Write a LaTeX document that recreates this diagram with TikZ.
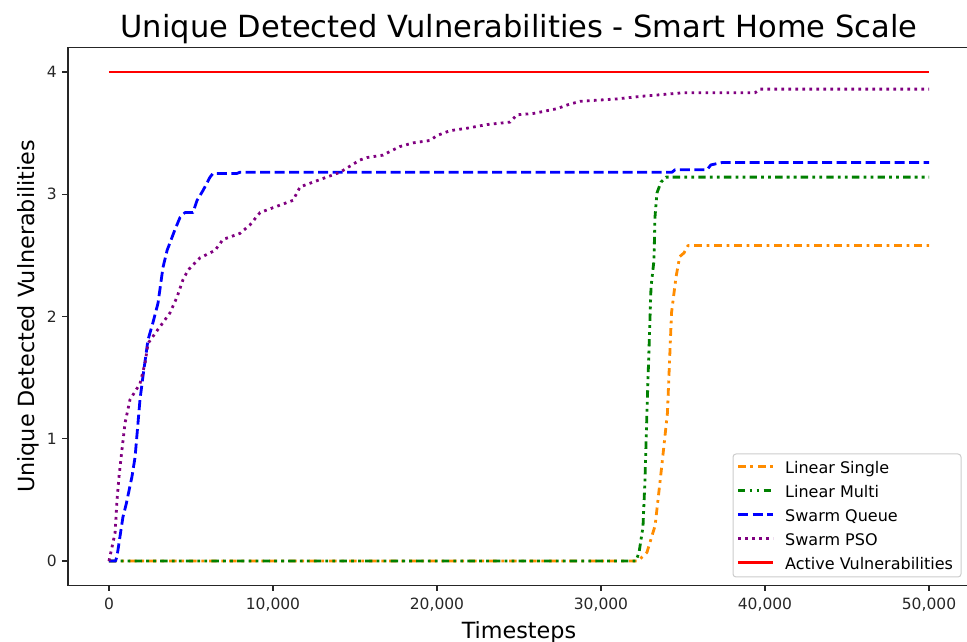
\documentclass[tikz,border=0pt]{standalone}
\usepackage{fontspec}
\setmainfont{DejaVu Sans}
\definecolor{cSingle}{HTML}{FF8C00}
\definecolor{cMulti}{HTML}{008000}
\definecolor{cQueue}{HTML}{0000FF}
\definecolor{cPSO}{HTML}{800080}
\definecolor{cActive}{HTML}{FF0000}
\definecolor{cSpine}{HTML}{262626}
\definecolor{cFrame}{HTML}{CCCCCC}
\begin{document}
\begin{tikzpicture}[x=16.4pt,y=122.25pt,
  spine/.style={line width=1.4pt,draw=cSpine},
  tickmark/.style={line width=1.4pt,draw=cSpine},
  ticklabel/.style={font=\fontsize{15.5}{18}\selectfont,inner sep=0pt,text=cSpine},
  axislabel/.style={font=\fontsize{22.3}{26}\selectfont,inner sep=0pt},
  legendtext/.style={font=\fontsize{16}{19}\selectfont,inner sep=0pt,anchor=base west},
  curve/.style={line width=2.8pt,line join=round},
  linsingle/.style={curve,draw=cSingle,dash pattern=on 7.6pt off 4.8pt on 2.8pt off 4.8pt},
  linmulti/.style={curve,draw=cMulti,dash pattern=on 7.4pt off 4.2pt on 2.8pt off 4.2pt on 2.8pt off 4.2pt},
  swqueue/.style={curve,draw=cQueue,dash pattern=on 10pt off 4.5pt},
  swpso/.style={curve,draw=cPSO,dash pattern=on 2.7pt off 4.3pt},
  active/.style={curve,draw=cActive}]

\useasboundingbox (-109pt,-81pt) rectangle (858pt,561pt);

% title and axis labels
\node[font=\fontsize{30.5}{36}\selectfont,inner sep=0pt,anchor=base] (title) at (25,4.286)
  {Unique Detected Vulnerabilities - Smart Home Scale};
\node[axislabel,anchor=base] (xlabel) at (25,-0.63) {Timesteps};
\node[axislabel,anchor=base,rotate=90] (ylabel) at (-4.573,2) {Unique Detected Vulnerabilities};

% data curves
\draw[linsingle] (0,0) -- (32.26,0) -- (32.8,0.07) -- (33.3,0.29) -- (33.7,0.77)
  -- (34.05,1.21) -- (34.3,2.03) -- (34.57,2.32) -- (34.8,2.49) -- (35.06,2.52)
  -- (35.3,2.58) -- (50,2.58);
\draw[linmulti] (0,0) -- (32.13,0) -- (32.32,0.07) -- (32.56,0.28) -- (32.68,0.66)
  -- (32.8,1.21) -- (32.93,1.75) -- (33.05,2.24) -- (33.23,2.46) -- (33.29,2.81)
  -- (33.41,3.01) -- (33.66,3.10) -- (33.96,3.14) -- (50,3.14);
\draw[swqueue] (0,0) -- (0.4,0) -- (0.49,0.04) -- (0.85,0.36) -- (1.04,0.46)
  -- (1.4,0.69) -- (1.59,0.85) -- (1.89,1.32) -- (2.07,1.51) -- (2.38,1.81)
  -- (2.68,1.95) -- (2.99,2.11) -- (3.29,2.40) -- (3.54,2.54) -- (4.02,2.71)
  -- (4.33,2.81) -- (4.63,2.85) -- (5.12,2.85) -- (5.37,2.95) -- (5.73,3.03)
  -- (6.16,3.14) -- (6.34,3.17) -- (7.8,3.17) -- (7.99,3.18) -- (34.33,3.18)
  -- (34.51,3.20) -- (36.46,3.20) -- (36.7,3.24) -- (37.4,3.26) -- (50,3.26);
\draw[swpso] (0,0) -- (0.37,0.23) -- (0.49,0.5) -- (0.61,0.69) -- (0.79,0.91)
  -- (0.98,1.13) -- (1.28,1.32) -- (1.89,1.45) -- (2.2,1.62) -- (2.38,1.78)
  -- (2.8,1.86) -- (3.29,1.95) -- (3.72,2.03) -- (4.15,2.16) -- (4.51,2.30)
  -- (4.82,2.38) -- (5.55,2.48) -- (6.46,2.54) -- (6.95,2.63) -- (7.99,2.68)
  -- (8.6,2.75) -- (9.21,2.85) -- (10,2.89) -- (11.22,2.95) -- (11.65,3.06)
  -- (12.87,3.12) -- (14.09,3.18) -- (15.3,3.28) -- (15.73,3.30) -- (16.7,3.32)
  -- (17.74,3.39) -- (18.54,3.42) -- (19.57,3.44) -- (20,3.48) -- (20.79,3.52)
  -- (21.83,3.54) -- (23.05,3.57) -- (24.45,3.59) -- (24.88,3.65) -- (25.85,3.66)
  -- (27.32,3.70) -- (27.93,3.73) -- (28.72,3.76) -- (30.98,3.78) -- (32.38,3.80)
  -- (35,3.83) -- (39.39,3.83) -- (39.7,3.86) -- (50,3.86);
\draw[active] (0,4) -- (50,4);

% axes frame
\draw[spine] (-2.5,-0.2) rectangle (52.5,4.2);

% x ticks
\foreach \t/\lab in {0/0,10/{10,000},20/{20,000},30/{30,000},40/{40,000},50/{50,000}}{
  \draw[tickmark] (\t,-0.2) -- ++(0,-6pt);
  \node[ticklabel,anchor=north] (xt\t) at (\t,-0.303) {\lab};
}
% y ticks
\foreach \v in {0,1,2,3,4}{
  \draw[tickmark] (-2.5,\v) -- ++(-6pt,0);
  \node[ticklabel,anchor=east] (yt\v) at (-3.17,\v) {\v};
}

% legend
\draw[draw=cFrame,line width=1pt,fill=white,rounded corners=3pt]
  (624pt,107pt) rectangle (852pt,-16pt);
\foreach \k/\sty/\lab in {0/linsingle/Linear Single,1/linmulti/Linear Multi,
    2/swqueue/Swarm Queue,3/swpso/Swarm PSO,4/active/Active Vulnerabilities}{
  \coordinate (ls\k) at (629pt,94.3pt-24pt*\k);
  \coordinate (le\k) at (664pt,94.3pt-24pt*\k);
  \draw[\sty] (ls\k) -- (le\k);
  \node[legendtext] (lt\k) at (676pt,87.7pt-24pt*\k) {\lab};
}
\end{tikzpicture}
\end{document}
